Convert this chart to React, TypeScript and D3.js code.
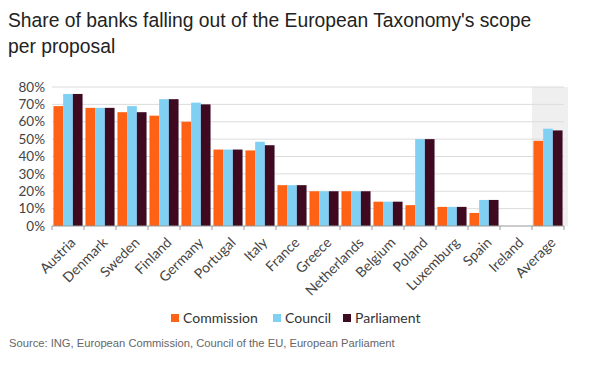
import React from 'react';
import * as d3 from 'd3';

const countries = ['Austria', 'Denmark', 'Sweden', 'Finland', 'Germany', 'Portugal', 'Italy', 'France', 'Greece', 'Netherlands', 'Belgium', 'Poland', 'Luxemburg', 'Spain', 'Ireland', 'Average'];
const seriesNames = ['Commission', 'Council', 'Parliament'];
const commission = [69, 68, 65.5, 63.5, 60, 44, 43.5, 23.5, 20, 20, 14, 12, 11, 7.5, 0, 49];
const council = [76, 68, 69, 73, 71, 44, 48.5, 23.5, 20, 20, 14, 50, 11, 15, 0, 56];
const parliament = [76, 68, 65.5, 73, 70, 44, 46.5, 23.5, 20, 20, 14, 50, 11, 15, 0, 55];
const yTicks = [0, 10, 20, 30, 40, 50, 60, 70, 80];
const colors = ['#ff6214', '#7fd0f2', '#3d0a22'];

const W = 593;
const H = 385;
const margin = { left: 52, right: 29, top: 87, bottom: 159 };
const tickFont = 'Lato, "Noto Sans", sans-serif';

const App: React.FC = () => {
  const values = [commission, council, parliament];
  const x0 = d3.scaleBand<string>()
    .domain(countries)
    .range([margin.left, W - margin.right])
    .paddingInner(0)
    .paddingOuter(0);
  const x1 = d3.scaleBand<number>()
    .domain([0, 1, 2])
    .range([0, x0.bandwidth()])
    .paddingOuter(0.15)
    .paddingInner(0);
  const y = d3.scaleLinear()
    .domain([0, 80])
    .range([H - margin.bottom, margin.top]);

  const avgX = x0('Average')!;
  const legendX = [171, 273, 343];

  return (
    <svg width={W} height={H} style={{ position: 'absolute', left: 0, top: 0, background: '#fff' }}>
      <text x={8} y={27} fontFamily='"Liberation Sans", Arial, sans-serif' fontSize={19.3} fill="#222">
        Share of banks falling out of the European Taxonomy's scope
      </text>
      <text x={8} y={53} fontFamily='"Liberation Sans", Arial, sans-serif' fontSize={19.3} fill="#222">
        per proposal
      </text>

      {/* shaded area behind the average */}
      <rect x={avgX} y={y(80)} width={W - margin.right - avgX + 4} height={y(0) - y(80)} fill="#efefef" />

      {yTicks.map(t => (
        <g key={t}>
          {t > 0 && <line x1={margin.left} x2={W - margin.right} y1={y(t)} y2={y(t)} stroke="#dcdcdc" strokeWidth={1} />}
          <text x={45} y={y(t)} dy="0.35em" textAnchor="end" fontFamily={tickFont} fontSize={13.5} fill="#444">{t}%</text>
        </g>
      ))}

      {countries.map((c, i) => (
        <g key={c} transform={`translate(${x0(c)},0)`}>
          {values.map((s, k) => (
            <rect key={k} x={x1(k)} y={y(s[i])} width={x1.bandwidth()} height={y(0) - y(s[i])} fill={colors[k]} />
          ))}
        </g>
      ))}

      <line x1={margin.left} x2={W - margin.right} y1={y(0)} y2={y(0)} stroke="#999" />
      {[...countries.map(c => x0(c)!), W - margin.right].map((tx, i) => (
        <line key={i} x1={tx} x2={tx} y1={y(0)} y2={y(0) + 4} stroke="#999" />
      ))}

      {countries.map(c => {
        const cx = x0(c)! + x0.bandwidth() / 2 + 5;
        const cy = y(0) + 14;
        return (
          <text key={c} transform={`translate(${cx},${cy}) rotate(-45)`} dy="0.35em" textAnchor="end"
            fontFamily={tickFont} fontSize={14} fill="#444">{c}</text>
        );
      })}

      {seriesNames.map((n, k) => (
        <g key={n}>
          <rect x={legendX[k]} y={314} width={8} height={8} fill={colors[k]} />
          <text x={legendX[k] + 12} y={318} dy="0.35em" fontFamily={tickFont} fontSize={14} fill="#333">{n}</text>
        </g>
      ))}

      <text x={9} y={347} fontFamily='"Liberation Sans", Arial, sans-serif' fontSize={11.2} fill="#666">
        Source: ING, European Commission, Council of the EU, European Parliament
      </text>
    </svg>
  );
};

export default App;
